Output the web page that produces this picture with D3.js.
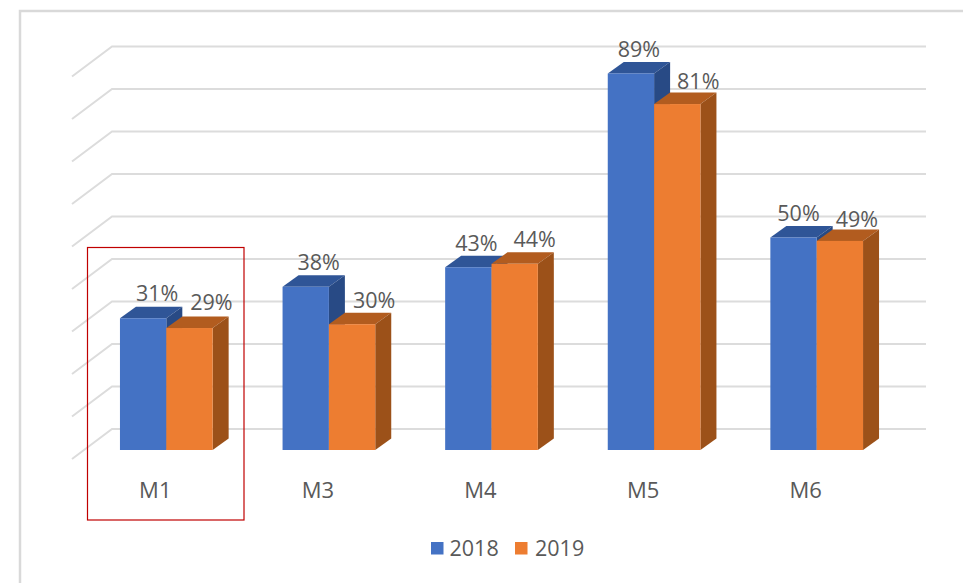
<!DOCTYPE html>
<html>
<head>
<meta charset="utf-8">
<script src="https://cdnjs.cloudflare.com/ajax/libs/d3/7.8.5/d3.min.js"></script>
<style>
  html, body { margin: 0; padding: 0; background: #fff; overflow: hidden; }
  text { font-family: "Open Sans", sans-serif; fill: #595959; }
</style>
</head>
<body>
<div id="chart"></div>
<script>
// Values (bar heights, labels show them rounded)
const categories = ['M1', 'M3', 'M4', 'M5', 'M6'];
const seriesNames = ['2018', '2019'];
const values2018 = [31, 38.4, 43, 88.6, 50];
const values2019 = [28.7, 29.6, 43.8, 81.4, 49.2];
const seriesValues = [values2018, values2019];
const gridTicks = [0, 10, 20, 30, 40, 50, 60, 70, 80, 90];

// Label nudges off the bar centre and bar top, per series, per category
const labelNudge2018 = [14, 13, 8, 8, 5];
const labelNudge2019 = [22, 22, 20, 21, 17];
const labelNudges = [labelNudge2018, labelNudge2019];
const labelLift2018 = [25, 24, 24, 24, 24.5];
const labelLift2019 = [26, 23.5, 24, 23, 21.5];
const labelLifts = [labelLift2018, labelLift2019];

const colors = [
  {front: '#4472c4', top: '#2f5597', side: '#284a85'},
  {front: '#ed7d31', top: '#b25c1f', side: '#9c5119'}
];

const width = 963;
const height = 583;
const barBase = 450;       // front foot of the bars
const barDepth = {x: 16, y: 11.5};
const wallDepth = {x: 40, y: 30};
const wallLift = 21;       // back wall floor sits this far above the bar foot
const wallLeft = 112;
const wallRight = 926;

const svg = d3.select('#chart')
  .append('svg')
  .attr('width', width)
  .attr('height', height);

const x = d3.scaleBand()
  .domain(categories)
  .range([85, 898])
  .paddingInner(0.43)
  .paddingOuter(0.215);

const xSeries = d3.scaleBand()
  .domain(d3.range(seriesNames.length))
  .range([0, x.bandwidth()]);

const y = d3.scaleLinear()
  .domain([0, 90])
  .range([barBase, barBase - 382.5]);

const pct = d3.format('.0f');

// Outer frame, only top and left edges show
svg.append('path')
  .attr('d', d3.line()([[20, 583], [20, 11], [963, 11]]))
  .attr('fill', 'none')
  .attr('stroke', '#d9d9d9')
  .attr('stroke-width', 2.5);

// Gridlines on the back and side wall
svg.append('g')
  .selectAll('path')
  .data(gridTicks)
  .join('path')
  .attr('d', t => {
    const wy = y(t) - wallLift;
    return d3.line()([[wallLeft - wallDepth.x, wy + wallDepth.y], [wallLeft, wy], [wallRight, wy]]);
  })
  .attr('fill', 'none')
  .attr('stroke', '#dcdcdc')
  .attr('stroke-width', 2);

// 3D columns
const bars = svg.append('g');
categories.forEach((cat, i) => {
  seriesValues.forEach((vals, s) => {
    const x0 = x(cat) + xSeries(s);
    const x1 = x0 + xSeries.bandwidth();
    const yTop = y(vals[i]);
    const dx = barDepth.x;
    const dy = barDepth.y;
    const g = bars.append('g');

    g.append('polygon')
      .attr('points', [[x0, yTop], [x0 + dx, yTop - dy], [x1 + dx, yTop - dy], [x1, yTop]].join(' '))
      .attr('fill', colors[s].top);
    g.append('polygon')
      .attr('points', [[x1, yTop], [x1 + dx, yTop - dy], [x1 + dx, barBase - dy], [x1, barBase]].join(' '))
      .attr('fill', colors[s].side);
    g.append('rect')
      .attr('x', x0)
      .attr('y', yTop)
      .attr('width', x1 - x0)
      .attr('height', barBase - yTop)
      .attr('fill', colors[s].front);
  });
});

// Data labels
categories.forEach((cat, i) => {
  seriesValues.forEach((vals, s) => {
    svg.append('text')
      .attr('x', x(cat) + xSeries(s) + xSeries.bandwidth() / 2 + labelNudges[s][i])
      .attr('y', y(vals[i]) - labelLifts[s][i])
      .attr('dy', '0.35em')
      .attr('text-anchor', 'middle')
      .attr('font-size', 21.5)
      .text(pct(vals[i]) + '%');
  });
});

// Category labels
const xAxis = svg.append('g')
  .attr('transform', 'translate(-11,' + (barBase + 32) + ')')
  .call(d3.axisBottom(x).tickSize(0).tickPadding(0));
xAxis.select('.domain').remove();
xAxis.selectAll('text')
  .attr('font-size', 22)
  .style('font-family', '"Open Sans", sans-serif')
  .style('fill', '#595959');

// Red highlight box round M1
svg.append('rect')
  .attr('x', 87.5)
  .attr('y', 247.5)
  .attr('width', 156.5)
  .attr('height', 272.5)
  .attr('fill', 'none')
  .attr('stroke', '#c00000')
  .attr('stroke-width', 1.2);

// Legend
const legendX = [431, 515];
const legend = svg.append('g');
seriesNames.forEach((name, s) => {
  legend.append('rect')
    .attr('x', legendX[s])
    .attr('y', 542)
    .attr('width', 12.5)
    .attr('height', 12.5)
    .attr('fill', colors[s].front);
  legend.append('text')
    .attr('x', legendX[s] + 18.5 + s * 1.5)
    .attr('y', 548)
    .attr('dy', '0.35em')
    .attr('font-size', 21.5)
    .text(name);
});
</script>
</body>
</html>
